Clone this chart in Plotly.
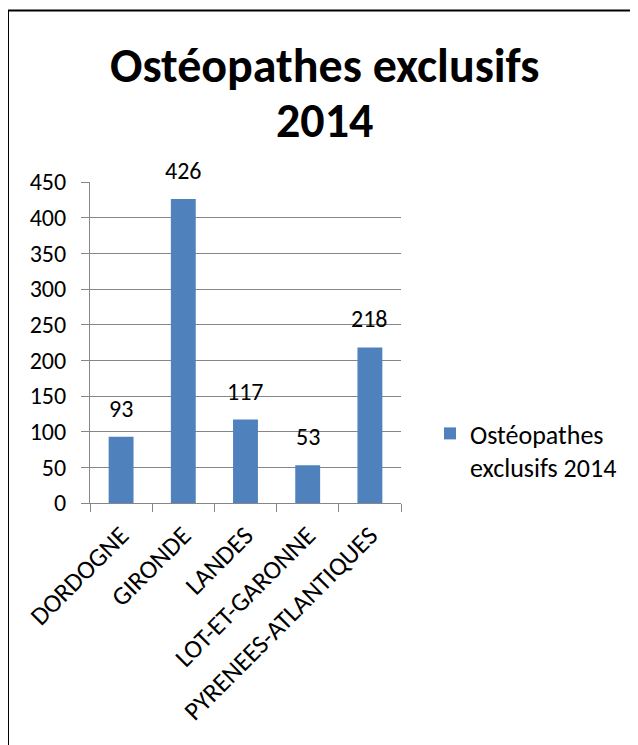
import plotly.graph_objects as go

categories = ["DORDOGNE", "GIRONDE", "LANDES", "LOT-ET-GARONNE", "PYRENEES-ATLANTIQUES"]
values = [93, 426, 117, 53, 218]
series_name = "Ostéopathes<br>exclusifs 2014"
title_lines = ["Ostéopathes exclusifs", "2014"]

FONT = "Calibri, Carlito, Lato, sans-serif"
OFF = 8  # page body margin
W, H = 638 - OFF, 745 - OFF
L, T = 90, 182          # reference pixel positions of plot area
PW, PH = 311, 321
ML, MT = L - OFF, T - OFF
MR, MB = W - ML - PW, H - MT - PH

def px_x(x):
    return (x - L) / PW

def px_y(y):
    return 1 - (y - T) / PH

fig = go.Figure()
fig.add_trace(go.Bar(
    x=categories, y=values,
    name=series_name,
    marker=dict(color="#4F81BD", line=dict(width=0)),
    cliponaxis=False,
))

value_labels = [
    dict(x=c, y=v, xref="x", yref="y", text=str(v), showarrow=False,
         xanchor="center", yanchor="bottom", yshift=12,
         font=dict(family=FONT, size=24, color="#000000"))
    for c, v in zip(categories, values)
]

fig.update_layout(
    width=W, height=H,
    margin=dict(l=ML, r=MR, t=MT, b=MB, pad=0),
    paper_bgcolor="white", plot_bgcolor="white",
    font=dict(family=FONT, size=24, color="#000000"),
    bargap=0.6,
    showlegend=True,
    legend=dict(x=px_x(430), y=px_y(410), xanchor="left", yanchor="top",
                valign="top",
                font=dict(family=FONT, size=26, color="#000000"),
                bgcolor="rgba(0,0,0,0)", itemwidth=30, tracegroupgap=0),
    xaxis=dict(
        tickangle=-45, showline=True, linecolor="#868686", linewidth=1,
        ticks="outside", ticklen=8, tickcolor="#868686", tickson="boundaries",
        ticklabelstandoff=6,
        showgrid=False, tickfont=dict(family=FONT, size=26, color="#000000"),
    ),
    yaxis=dict(
        range=[0, 450], dtick=50, showline=True, linecolor="#868686", linewidth=1,
        ticks="outside", ticklen=8, tickcolor="#868686",
        ticklabelstandoff=10,
        showgrid=True, gridcolor="#868686", gridwidth=1, zeroline=False,
        tickfont=dict(family=FONT, size=24, color="#000000"),
    ),
    annotations=value_labels + [
        dict(text="<b>" + title_lines[0] + "</b>", xref="paper", yref="paper",
             x=px_x(324), y=px_y(65), xanchor="center", yanchor="middle",
             showarrow=False, font=dict(family=FONT, size=48, color="#000000")),
        dict(text="<b>" + title_lines[1] + "</b>", xref="paper", yref="paper",
             x=px_x(324), y=px_y(120), xanchor="center", yanchor="middle",
             showarrow=False, font=dict(family=FONT, size=48, color="#000000")),
    ],
    shapes=[
        dict(type="line", xref="paper", yref="paper", x0=px_x(8), x1=px_x(8),
             y0=px_y(10), y1=px_y(800), line=dict(color="#000000", width=2)),
        dict(type="line", xref="paper", yref="paper", x0=px_x(7), x1=px_x(700),
             y0=px_y(10.5), y1=px_y(10.5), line=dict(color="#000000", width=2)),
    ],
)

fig.write_html("out.html")
